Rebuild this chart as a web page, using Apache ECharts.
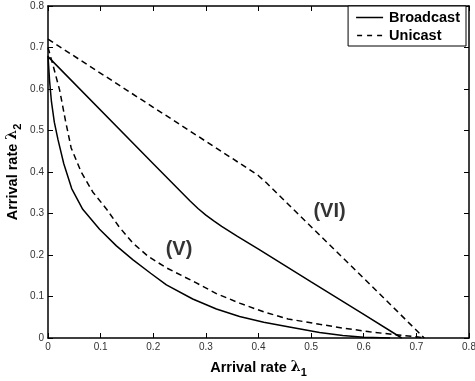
<!DOCTYPE html>
<html>
<head>
<meta charset="utf-8">
<script src="https://cdn.jsdelivr.net/npm/echarts@6/dist/echarts.min.js"></script>
<style>
  html, body { margin: 0; padding: 0; background: #fff; }
  #chart { width: 475px; height: 381px; }
</style>
</head>
<body>
<div id="chart"></div>
<script>
// tick values
var xTicks = [0, 0.1, 0.2, 0.3, 0.4, 0.5, 0.6, 0.7, 0.8];
var yTicks = [0, 0.1, 0.2, 0.3, 0.4, 0.5, 0.6, 0.7, 0.8];

// Broadcast, outer region (VI)
var bcOuterX = [0, 0.2, 0.27, 0.285, 0.3, 0.315, 0.33, 0.36, 0.4, 0.5, 0.6, 0.672];
var bcOuterY = [0.678, 0.42, 0.33, 0.312, 0.296, 0.282, 0.269, 0.245, 0.214, 0.135, 0.057, 0];

// Unicast, outer region (VI)
var ucOuterX = [0, 0.2, 0.385, 0.4, 0.415, 0.5, 0.6, 0.715];
var ucOuterY = [0.72, 0.556, 0.404, 0.391, 0.374, 0.268, 0.144, 0];

// Broadcast, inner region (V)
var bcInnerX = [0, 0.003, 0.0065, 0.012, 0.019, 0.03, 0.045, 0.066, 0.098, 0.13, 0.161, 0.195, 0.225, 0.275, 0.32, 0.364, 0.41, 0.456, 0.516, 0.56, 0.6, 0.65];
var bcInnerY = [0.68, 0.62, 0.57, 0.52, 0.478, 0.42, 0.36, 0.31, 0.262, 0.222, 0.189, 0.156, 0.128, 0.094, 0.07, 0.052, 0.038, 0.027, 0.013, 0.006, 0.002, 0];

// Unicast, inner region (V)
var ucInnerX = [0, 0.01, 0.022, 0.033, 0.044, 0.063, 0.085, 0.111, 0.135, 0.161, 0.19, 0.225, 0.28, 0.32, 0.364, 0.41, 0.456, 0.516, 0.56, 0.611, 0.66, 0.70, 0.715];
var ucInnerY = [0.70, 0.655, 0.598, 0.525, 0.458, 0.4, 0.352, 0.311, 0.268, 0.229, 0.197, 0.169, 0.134, 0.107, 0.084, 0.063, 0.046, 0.033, 0.024, 0.015, 0.008, 0.003, 0];

// region labels
var regionNames = ['(V)', '(VI)'];
var regionX = [0.249, 0.535];
var regionY = [0.213, 0.304];

function zip(xs, ys) {
  return xs.map(function (x, i) { return [x, ys[i]]; });
}

var chart = echarts.init(document.getElementById('chart'));

var tickFont = { fontFamily: 'Liberation Sans', fontSize: 10, color: '#333' };
var nameRich = {
  sub: { fontFamily: 'Liberation Sans', fontWeight: 'bold', fontSize: 11, padding: [10, 0, 0, 0] },
  lam: { fontFamily: 'DejaVu Serif', fontSize: 14 }
};

// legend icons: a thin stroke, with two specks that fix the icon box height
var solidIcon = 'path://M0,4.3H27V5.7H0Z M0,0H0.01V0.01H0Z M0,10H0.01V9.99H0Z';
var dashIcon = 'path://M0,4.3H5V5.7H0Z M10,4.3H15V5.7H10Z M20,4.3H25V5.7H20Z M0,0H0.01V0.01H0Z M0,10H0.01V9.99H0Z';

function valueAxis(pos, showLabel, extra) {
  var a = {
    type: 'value',
    position: pos,
    min: 0,
    max: 0.8,
    interval: 0.1,
    splitLine: { show: false },
    axisLine: { show: true, onZero: false, lineStyle: { color: '#000', width: 1.5 } },
    axisTick: { show: true, inside: true, length: 5, lineStyle: { color: '#000', width: 1 } },
    axisLabel: Object.assign({ show: showLabel, margin: 4, formatter: function (v) { return String(+v.toFixed(1)); } }, tickFont)
  };
  return Object.assign(a, extra || {});
}

var lineSeries = function (name, data, dashed) {
  return {
    name: name,
    type: 'line',
    data: data,
    symbol: 'none',
    showSymbol: false,
    smooth: false,
    lineStyle: { color: '#000', width: 1.5, type: dashed ? [6, 4] : 'solid' },
    itemStyle: { color: '#000' },
    z: 3
  };
};

var option = {
  backgroundColor: '#fff',
  animation: false,
  grid: { left: 48, right: 6, top: 6, bottom: 43, outerBoundsMode: 'none', containLabel: false },
  legend: {
    data: [
      { name: 'Broadcast', icon: solidIcon },
      { name: 'Unicast', icon: dashIcon }
    ],
    orient: 'vertical',
    right: 9,
    top: 6,
    itemWidth: 27,
    itemHeight: 10,
    itemGap: 3,
    padding: [4, 6, 3, 8],
    backgroundColor: '#fff',
    borderColor: '#000',
    borderWidth: 1,
    borderRadius: 0,
    textStyle: { fontFamily: 'Liberation Sans', fontWeight: 'bold', fontSize: 14.5, color: '#000', padding: [0, 0, 0, 1] }
  },
  xAxis: [
    valueAxis('bottom', true, {
      name: 'Arrival rate {lam|λ}{sub|1}',
      nameLocation: 'middle',
      nameGap: 19,
      nameMoveOverlap: false,
      nameTextStyle: { fontFamily: 'Liberation Sans', fontWeight: 'bold', fontSize: 14.5, color: '#000', rich: nameRich }
    }),
    valueAxis('top', false)
  ],
  yAxis: [
    valueAxis('left', true, {
      name: 'Arrival rate {lam|λ}{sub|2}',
      nameLocation: 'middle',
      nameGap: 25,
      nameRotate: 90,
      nameMoveOverlap: false,
      nameTextStyle: { fontFamily: 'Liberation Sans', fontWeight: 'bold', fontSize: 14.5, color: '#000', rich: nameRich }
    }),
    valueAxis('right', false)
  ],
  series: [
    lineSeries('Broadcast', zip(bcOuterX, bcOuterY), false),
    lineSeries('Unicast', zip(ucOuterX, ucOuterY), true),
    lineSeries('Broadcast', zip(bcInnerX, bcInnerY), false),
    lineSeries('Unicast', zip(ucInnerX, ucInnerY), true),
    {
      name: 'regions',
      type: 'scatter',
      symbolSize: 0,
      data: zip(regionX, regionY).map(function (p, i) { return { value: p, label: { formatter: regionNames[i] } }; }),
      label: {
        show: true,
        position: 'inside',
        fontFamily: 'Liberation Sans',
        fontWeight: 'bold',
        fontSize: 20,
        color: '#000'
      },
      z: 5
    }
  ]
};

chart.setOption(option);
window.addEventListener('resize', function () { chart.resize(); });
</script>
</body>
</html>
